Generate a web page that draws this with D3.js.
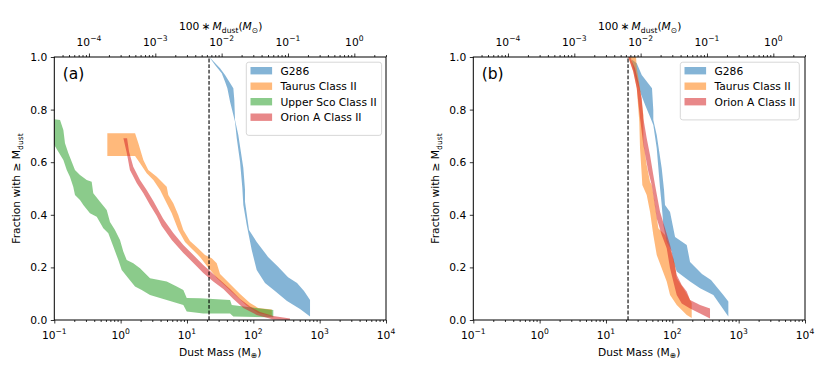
<!DOCTYPE html>
<html><head><meta charset="utf-8">
<script src="https://cdn.jsdelivr.net/npm/d3@7/dist/d3.min.js"></script>
<style>
body{margin:0;background:#fff}
text{font-family:"DejaVu Sans",sans-serif;fill:#000}
</style>
</head><body>
<svg id="c" width="830" height="365"></svg>
<script>
// ---------------- DATA ----------------
const seriesNames = ["G286", "Taurus Class II", "Upper Sco Class II", "Orion A Class II"];
const panelLabels = ["(a)", "(b)"];
const xTickValues = [0.1, 1, 10, 100, 1000, 10000];
const xTickExponents = ["\u22121", "0", "1", "2", "3", "4"];
const topTickValues = [1e-4, 1e-3, 1e-2, 1e-1, 1];
const topTickExponents = ["\u22124", "\u22123", "\u22122", "\u22121", "0"];
const yTickValues = [0, 0.2, 0.4, 0.6, 0.8, 1.0];
const massLimit = 21.5;            // dashed vertical line (Earth masses)
const earthTo100Msun = 3.003e-4;   // 100 * M_sun per Earth mass

// Panel (a): [mass (M_earth), fraction] pairs for band edges
const g286A_upper = [[21.7,1.0],[31.5,0.957],[37.5,0.932],[50,0.881],[51.7,0.837],[53,0.76],[59.4,0.703],[70.7,0.578],[75,0.494],[75,0.449],[86.1,0.342],[112.5,0.297],[166.7,0.24],[236,0.202],[334,0.163],[456,0.141],[581,0.11],[716,0.076],[716,0.013]];
const g286A_lower = [[21.7,1.0],[26.5,0.97],[33.4,0.938],[37.5,0.906],[40.6,0.881],[44.6,0.83],[53,0.754],[56.2,0.692],[63.1,0.601],[68.3,0.502],[70.7,0.437],[79.6,0.361],[94.6,0.266],[112.5,0.19],[150,0.141],[212,0.11],[322,0.072],[506,0.042],[716,0.013]];

const taurusA_upper = [[0.63,0.71],[1.65,0.71],[1.85,0.672],[2.2,0.608],[2.61,0.57],[3.5,0.545],[4.95,0.507],[5.23,0.475],[6.22,0.444],[7.4,0.399],[8.81,0.342],[11.1,0.3],[14,0.278],[18.7,0.247],[23.6,0.235],[28.1,0.216],[31.5,0.175],[44.6,0.137],[63.1,0.099],[89.2,0.065],[118,0.046],[190,0.04]];
const taurusA_lower = [[0.63,0.624],[1.65,0.624],[1.96,0.596],[2.47,0.558],[3.11,0.532],[3.93,0.494],[4.67,0.456],[5.89,0.406],[7.4,0.342],[9.34,0.297],[11.9,0.27],[15.7,0.24],[20,0.205],[28.1,0.16],[49.4,0.103],[80.4,0.053],[118,0.027],[190,0.015]];

const uscoA_upper = [[0.08,0.767],[0.122,0.76],[0.137,0.722],[0.145,0.672],[0.163,0.634],[0.183,0.602],[0.205,0.57],[0.244,0.551],[0.308,0.532],[0.366,0.526],[0.387,0.482],[0.489,0.45],[0.617,0.418],[0.691,0.373],[0.822,0.342],[0.978,0.304],[1.097,0.26],[1.235,0.228],[1.552,0.216],[1.959,0.197],[2.772,0.159],[4.95,0.146],[7.0,0.127],[8.81,0.114],[9.91,0.084],[15.7,0.083],[44.6,0.076],[47.3,0.057],[200,0.038]];
const uscoA_lower = [[0.08,0.68],[0.1,0.665],[0.115,0.64],[0.137,0.608],[0.154,0.57],[0.172,0.545],[0.193,0.507],[0.205,0.475],[0.244,0.456],[0.274,0.437],[0.345,0.406],[0.436,0.393],[0.548,0.349],[0.652,0.33],[0.775,0.279],[0.923,0.228],[1.038,0.19],[1.305,0.159],[1.647,0.127],[2.078,0.114],[2.772,0.095],[4.95,0.076],[8.81,0.057],[9.91,0.032],[17.6,0.025],[44.6,0.025],[50,0.013],[200,0.01]];

const orionA_upper = [[1.25,0.691],[1.34,0.64],[1.55,0.583],[1.96,0.532],[2.47,0.494],[3.11,0.452],[4.4,0.384],[6.22,0.331],[8.81,0.285],[12.5,0.247],[17.6,0.209],[24.9,0.175],[31.5,0.152],[44.6,0.118],[63.1,0.08],[89.2,0.051],[126,0.03],[200,0.015],[357,0.006]];
const orionA_lower = [[1.1,0.691],[1.24,0.634],[1.38,0.57],[1.75,0.52],[2.2,0.482],[2.77,0.437],[3.5,0.395],[4.16,0.357],[5.89,0.304],[8.81,0.255],[12.5,0.217],[17.6,0.179],[24.9,0.146],[35.3,0.118],[50,0.08],[70.7,0.046],[112.5,0.019],[200,0.002],[357,0]];

// Panel (b)
const g286B_upper = [[21.7,1.0],[29.1,0.976],[34.6,0.932],[49.4,0.881],[51.7,0.798],[51.7,0.76],[58.2,0.703],[69.2,0.577],[75,0.494],[77.6,0.437],[92.4,0.411],[110,0.316],[165,0.285],[185,0.221],[280,0.175],[383,0.152],[587,0.095],[699,0.07],[699,0.013]];
const g286B_lower = [[21.7,1.0],[23.9,0.996],[27.4,0.932],[32.6,0.868],[38.8,0.818],[46.1,0.773],[51.7,0.741],[58.2,0.653],[65.3,0.501],[69.2,0.437],[73.2,0.361],[82.3,0.298],[98,0.26],[103.5,0.222],[116.5,0.184],[185,0.146],[262,0.121],[415,0.095],[699,0.013]];

const taurusB_upper = [[21.7,1.0],[28.4,1.0],[29.1,0.957],[32.6,0.881],[36.6,0.779],[36.6,0.678],[41.1,0.589],[46.1,0.526],[48.9,0.513],[54.9,0.437],[61.5,0.349],[77.6,0.323],[92.4,0.273],[110,0.209],[116.5,0.159],[146.6,0.121],[174,0.089],[196,0.065],[196,0.013]];
const taurusB_lower = [[21.7,1.0],[25.8,0.944],[29.1,0.881],[31.8,0.754],[32.6,0.653],[34.6,0.551],[35.3,0.513],[41.1,0.475],[46.1,0.412],[51.7,0.323],[58.2,0.247],[69.2,0.197],[82.3,0.146],[92.4,0.095],[116.5,0.057],[165,0.019],[196,0.008]];

const orionB_upper = [[23,1.0],[27.4,0.957],[30.7,0.906],[34.6,0.843],[36.6,0.767],[38.8,0.729],[41.1,0.691],[46.1,0.627],[51.7,0.551],[54.9,0.513],[65.3,0.412],[77.6,0.349],[92.4,0.285],[103.5,0.235],[116.5,0.171],[138.7,0.133],[165,0.108],[185,0.076],[262,0.057],[370,0.044],[370,0.006]];
const orionB_lower = [[21.7,1.0],[25.8,0.944],[29.1,0.881],[32.6,0.767],[36.6,0.665],[43.5,0.564],[48.9,0.513],[58.2,0.387],[69.2,0.323],[82.3,0.273],[92.4,0.197],[103.5,0.146],[116.5,0.095],[138.7,0.063],[185,0.044],[262,0.025],[370,0.006]];

// ---------------- DRAWING ----------------
const colors = {"G286":"#1f77b4","Taurus Class II":"#ff7f0e","Upper Sco Class II":"#2ca02c","Orion A Class II":"#d62728"};
const FILL_OP = 0.55;
const FS = 10.7;

const panels = [
  {label: panelLabels[0], left: 54.3, bands: [
      {name: seriesNames[0], upper: g286A_upper, lower: g286A_lower},
      {name: seriesNames[1], upper: taurusA_upper, lower: taurusA_lower},
      {name: seriesNames[2], upper: uscoA_upper, lower: uscoA_lower},
      {name: seriesNames[3], upper: orionA_upper, lower: orionA_lower}],
   legend: {x: 246.3, w: 135.3, names: [seriesNames[0], seriesNames[1], seriesNames[2], seriesNames[3]]}},
  {label: panelLabels[1], left: 473.3, bands: [
      {name: seriesNames[0], upper: g286B_upper, lower: g286B_lower},
      {name: seriesNames[1], upper: taurusB_upper, lower: taurusB_lower},
      {name: seriesNames[3], upper: orionB_upper, lower: orionB_lower}],
   legend: {x: 680.3, w: 119, names: [seriesNames[0], seriesNames[1], seriesNames[3]]}}
];

const svg = d3.select("#c");
const TOP = 57, BOT = 320, W = 331.7;

function minorTicks(lo, hi) {
  const out = [];
  for (let e = Math.floor(Math.log10(lo)) ; e <= Math.ceil(Math.log10(hi)); e++) {
    for (let k = 2; k <= 9; k++) {
      const v = k * Math.pow(10, e);
      if (v >= lo * 0.9999 && v <= hi * 1.0001) out.push(v);
    }
  }
  return out;
}

panels.forEach((p, pi) => {
  const x = d3.scaleLog().domain([0.1, 1e4]).range([p.left, p.left + W]);
  const xt = d3.scaleLog().domain([0.1 * earthTo100Msun, 1e4 * earthTo100Msun]).range([p.left, p.left + W]);
  const y = d3.scaleLinear().domain([0, 1]).range([BOT, TOP]);
  const g = svg.append("g");

  const clipId = "clip" + pi;
  svg.append("defs").append("clipPath").attr("id", clipId)
    .append("rect").attr("x", p.left).attr("y", TOP).attr("width", W).attr("height", BOT - TOP);

  const line = d3.line().x(d => x(d[0])).y(d => y(d[1]));
  const bandG = g.append("g").attr("clip-path", `url(#${clipId})`);
  p.bands.forEach(b => {
    const poly = b.upper.concat(b.lower.slice().reverse());
    bandG.append("path").attr("d", line(poly) + "Z")
      .attr("fill", colors[b.name]).attr("fill-opacity", FILL_OP).attr("stroke", "none");
  });

  // dashed line
  g.append("line").attr("x1", x(massLimit)).attr("x2", x(massLimit))
    .attr("y1", y(0)).attr("y2", y(1)).attr("stroke", "#000").attr("stroke-width", 1.1)
    .attr("stroke-dasharray", "3.8,1.8");

  // frame
  g.append("rect").attr("x", p.left).attr("y", TOP).attr("width", W).attr("height", BOT - TOP)
    .attr("fill", "none").attr("stroke", "#000").attr("stroke-width", 1);

  // bottom axis
  const bMaj = g.append("g").attr("transform", `translate(0,${BOT})`)
    .call(d3.axisBottom(x).tickValues(xTickValues).tickSize(3.5).tickFormat(() => ""));
  const bMin = g.append("g").attr("transform", `translate(0,${BOT})`)
    .call(d3.axisBottom(x).tickValues(minorTicks(0.1, 1e4)).tickSize(2).tickFormat(() => ""));
  // top axis
  const tMaj = g.append("g").attr("transform", `translate(0,${TOP})`)
    .call(d3.axisTop(xt).tickValues(topTickValues).tickSize(3.5).tickFormat(() => ""));
  const tMin = g.append("g").attr("transform", `translate(0,${TOP})`)
    .call(d3.axisTop(xt).tickValues(minorTicks(0.1 * earthTo100Msun, 1e4 * earthTo100Msun)).tickSize(2).tickFormat(() => ""));
  // left axis
  const lAx = g.append("g").attr("transform", `translate(${p.left},0)`)
    .call(d3.axisLeft(y).tickValues(yTickValues).tickSize(3.5).tickPadding(3.5).tickFormat(d3.format(".1f")));
  [bMaj, bMin, tMaj, tMin, lAx].forEach(a => {
    a.select(".domain").remove();
    a.selectAll(".tick line").attr("stroke", "#000").attr("stroke-width", 0.8);
  });
  lAx.selectAll(".tick text").attr("font-size", FS).attr("font-family", "DejaVu Sans").attr("fill", "#000");

  // bottom tick labels
  xTickValues.forEach((v, i) => {
    const t = g.append("text").attr("x", x(v)).attr("y", 338.5).attr("text-anchor", "middle").attr("font-size", FS);
    t.append("tspan").text("10");
    t.append("tspan").attr("dy", -4.6).attr("font-size", 7.6).text(xTickExponents[i]);
  });
  // top tick labels
  topTickValues.forEach((v, i) => {
    const t = g.append("text").attr("x", xt(v)).attr("y", 45.7).attr("text-anchor", "middle").attr("font-size", FS);
    t.append("tspan").text("10");
    t.append("tspan").attr("dy", -4.6).attr("font-size", 7.6).text(topTickExponents[i]);
  });

  const cx = p.left + W / 2;
  // top label
  const tl = g.append("text").attr("x", cx + 0.5).attr("y", 30).attr("text-anchor", "middle").attr("font-size", FS);
  tl.append("tspan").text("100\u2009\u2217\u2009");
  tl.append("tspan").attr("font-style", "italic").text("M");
  tl.append("tspan").attr("dy", 2.6).attr("font-size", 7.6).text("dust");
  tl.append("tspan").attr("dy", -2.6).text("(");
  tl.append("tspan").attr("font-style", "italic").text("M");
  tl.append("tspan").attr("dy", 2.6).attr("font-size", 7.6).text("\u2299");
  tl.append("tspan").attr("dy", -2.6).text(")");

  // x label
  const xl = g.append("text").attr("x", cx).attr("y", 355.5).attr("text-anchor", "middle").attr("font-size", FS);
  xl.append("tspan").text("Dust Mass (M");
  xl.append("tspan").attr("dy", 2.6).attr("font-size", 7.6).text("\u2295");
  xl.append("tspan").attr("dy", -2.6).text(")");

  // y label
  const yl = g.append("text").attr("transform", `translate(${p.left - 34},${(TOP + BOT) / 2}) rotate(-90)`)
    .attr("text-anchor", "middle").attr("font-size", FS);
  yl.append("tspan").text("Fraction with \u2265 M");
  yl.append("tspan").attr("dy", 2.6).attr("font-size", 7.6).text("dust");

  // panel label
  g.append("text").attr("x", p.left + 8.4).attr("y", 79).attr("font-size", 15.5).text(p.label);

  // legend
  const L = p.legend, rowH = 15.5, ly0 = 62.2;
  const lh = 8.6 + rowH * L.names.length - 1.4 + 4;
  g.append("rect").attr("x", L.x).attr("y", ly0).attr("width", L.w).attr("height", lh)
    .attr("rx", 2.5).attr("fill", "#fff").attr("fill-opacity", 0.8)
    .attr("stroke", "#d3d3d3").attr("stroke-width", 0.9);
  L.names.forEach((n, i) => {
    const cy = 70.7 + i * rowH;
    g.append("rect").attr("x", L.x + 4.2).attr("y", cy - 3.7).attr("width", 21.6).attr("height", 7.4)
      .attr("fill", colors[n]).attr("fill-opacity", FILL_OP);
    g.append("text").attr("x", L.x + 34.2).attr("y", cy + 3.9).attr("font-size", FS).text(n);
  });
});
</script>
</body></html>
